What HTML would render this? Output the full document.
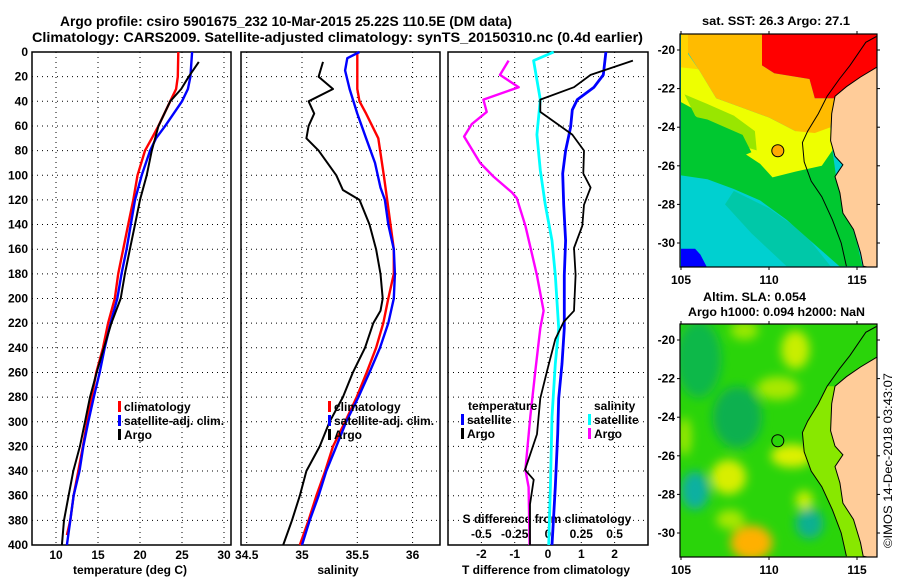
<!DOCTYPE html>
<html><head><meta charset="utf-8"><style>
html,body{margin:0;padding:0;background:#fff;}
svg{display:block;font-family:"Liberation Sans",Arial,sans-serif;}
.b{font-weight:bold;font-size:12px;}
</style></head><body>
<svg id="fig" width="900" height="580" viewBox="0 0 900 580" xmlns="http://www.w3.org/2000/svg">
<text x="60" y="26" font-size="14" font-weight="bold" textLength="452" lengthAdjust="spacingAndGlyphs">Argo profile: csiro 5901675_232 10-Mar-2015 25.22S 110.5E (DM data)</text>
<text x="32" y="42" font-size="14" font-weight="bold" textLength="611" lengthAdjust="spacingAndGlyphs">Climatology: CARS2009. Satellite-adjusted climatology: synTS_20150310.nc (0.4d earlier)</text>
<g id="plots"></g>
<g id="maps"></g>
</svg>
<script>
// ---------- data ----------
const depthTicks = [0,20,40,60,80,100,120,140,160,180,200,220,240,260,280,300,320,340,360,380,400];
const tTicks = [10,15,20,25,30];
const sTicks = [34.5,35,35.5,36];
const sTickLabels = ["34.5","35","35.5","36"];
const dTTicks = [-2,-1,0,1,2];
const dSTicks = [-0.5,-0.25,0,0.25,0.5];
const dSTickLabels = ["-0.5","-0.25","0","0.25","0.5"];

const tClimDepth = [0,20,30,40,60,70,80,100,120,140,160,180,200,220,240,260,280,300,320,340,360,380,392];
const tClim = [24.56,24.5,24.3,23.6,22.2,21.4,20.6,19.7,19.2,18.6,18.0,17.4,17.0,16.2,15.6,14.8,14.25,13.7,13.2,12.65,12.1,11.7,11.3];
const tSatDepth = [0,20,30,40,60,70,80,100,120,140,160,180,200,220,240,260,280,300,320,340,360,380,400];
const tSat = [26.2,26.0,25.7,25.0,23.0,21.9,21.2,20.2,19.4,18.9,18.4,17.8,17.3,16.5,15.8,15.2,14.5,13.85,13.25,12.8,12.1,11.7,11.3];
const tArgoDepth = [8,20,30,40,60,80,100,120,140,160,180,200,220,240,260,280,300,320,340,360,380,400];
const tArgo = [27.0,25.8,24.9,23.6,22.2,21.4,20.8,20.0,19.4,18.8,18.2,17.7,16.6,15.7,14.85,14.05,13.45,12.85,12.06,11.5,10.95,10.7];

const sClimDepth = [0,30,40,50,70,100,120,140,160,180,200,220,240,260,280,300,320,340,360,380,400];
const sClim = [35.50,35.50,35.52,35.58,35.69,35.74,35.77,35.80,35.83,35.83,35.78,35.735,35.67,35.585,35.495,35.39,35.28,35.21,35.13,35.06,34.98];
const sSatDepth = [0,5,15,30,50,70,90,110,120,140,160,180,200,220,240,260,280,300,320,340,360,380,400];
const sSat = [35.52,35.41,35.39,35.43,35.50,35.58,35.66,35.71,35.75,35.78,35.83,35.84,35.83,35.78,35.705,35.61,35.51,35.40,35.31,35.22,35.15,35.07,35.0];
const sArgoDepth = [8,20,30,40,50,60,70,80,100,112,120,140,160,180,200,210,220,240,260,280,300,320,340,360,380,400];
const sArgo = [35.19,35.15,35.28,35.06,35.11,35.06,35.04,35.15,35.31,35.37,35.52,35.61,35.67,35.71,35.73,35.71,35.645,35.57,35.46,35.37,35.25,35.16,35.04,34.98,34.91,34.83];

const dTSatDepth = [0,18.6,28.6,38.6,47,61,80,98.6,124,153,181,224,253,281,310,353,400];
const dTSat = [1.74,1.66,1.38,0.88,0.73,0.68,0.53,0.44,0.47,0.53,0.49,0.49,0.42,0.32,0.29,0.22,0.12];
const dTArgoDepth = [7,18.6,28.6,38.6,48.6,67,80,98.6,110,124,141,159,181,210,219,233,259,281,310,339,347,367,400];
const dTArgo = [2.55,1.28,0.78,-0.23,-0.23,0.73,1.08,1.06,1.28,1.08,1.03,0.78,0.83,0.78,0.47,0.22,-0.03,-0.23,-0.33,-0.69,-0.43,-0.54,-0.54];
const dSSatDepth = [0,7,38.6,67,96,124,153,181,224,253,296,353,400];
const dSSat = [0.043,-0.108,-0.058,-0.083,-0.058,-0.02,0.03,0.055,0.08,0.055,0.03,0.018,0.005];
const dSArgoDepth = [7,18.6,28.6,38.6,48.6,58.6,68.6,90,101,114,118.6,141,181,210,224,259,296,339,353,400];
const dSArgo = [-0.296,-0.36,-0.22,-0.485,-0.46,-0.573,-0.63,-0.51,-0.41,-0.27,-0.234,-0.17,-0.083,-0.033,-0.058,-0.095,-0.133,-0.17,-0.146,-0.138];

const mapLonTicks = [105,110,115];
const mapLatTicks = [-20,-22,-24,-26,-28,-30];
const argoLon = 110.5, argoLat = -25.22;

// ---------- helpers ----------
const NS = "http://www.w3.org/2000/svg";
function mk(tag, attrs, parent){const e=document.createElementNS(NS,tag);for(const k in attrs)e.setAttribute(k,attrs[k]);parent.appendChild(e);return e;}
const Y = d => 52 + d*1.2325;
const XT = t => 56 + (t-10)*8.4;
const XS = s => 302 + (s-35)*110.6;
const XDT = t => 548 + t*33.3;
const XDS = s => 548 + s*133.2;
const plots = document.getElementById('plots');

function panel(name, x0, x1, xTicks, xFn){
  const g = mk('g',{},plots);
  
  
  depthTicks.forEach(d=>{ if(d>0&&d<400){const l=mk('line',{x1:x0,x2:x1,y1:Y(d),y2:Y(d),stroke:'#000','stroke-width':1,'stroke-dasharray':'1,4'},g);
    
    }});
  xTicks.forEach(v=>{const x=xFn(v);const l=mk('line',{x1:x,x2:x,y1:Y(0),y2:Y(400),stroke:'#000','stroke-width':1,'stroke-dasharray':'1,4'},g);
    
    });
  const r = mk('rect',{x:x0,y:Y(0),width:x1-x0,height:Y(400)-Y(0),fill:'none',stroke:'#000','stroke-width':1.5},g);
  
  
  return g;
}
function line(g, depths, vals, xFn, color, w, name){
  const pts = depths.map((d,i)=>xFn(vals[i]).toFixed(1)+','+Y(d).toFixed(1)).join(' ');
  const p = mk('polyline',{points:pts,fill:'none',stroke:color,'stroke-width':w,'stroke-linejoin':'round'},g);
  
  
}
function txt(g, x, y, s, anchor, name, extra){
  const t = mk('text',Object.assign({x:x,y:y,'text-anchor':anchor||'start',class:'b'},extra||{}),g);
  t.textContent = s;
  
  
  return t;
}
function legend(g, x, y, items){
  items.forEach((it,i)=>{
    const yy = y + i*14;
    const m = mk('rect',{x:x,y:yy-10,width:3,height:11,fill:it[1]},g);
    
    
    txt(g, x+6, yy, it[0], 'start', 'legend-entry');
  });
}

// ---------- panel 1 ----------
const g1 = panel('temperature-panel', 32, 231, tTicks, XT);
depthTicks.forEach(d=>txt(g1, 28, Y(d)+4, String(d), 'end', 'y-tick-label'));
tTicks.forEach(v=>txt(g1, XT(v), 559, String(v), 'middle', 'x-tick-label'));
txt(g1, 130, 574, 'temperature (deg C)', 'middle', 'x-axis-title');
line(g1, tClimDepth, tClim, XT, '#ff0000', 2.4, 'series-temp-climatology');
line(g1, tSatDepth, tSat, XT, '#0000ff', 2.4, 'series-temp-satellite');
line(g1, tArgoDepth, tArgo, XT, '#000', 2, 'series-temp-argo');
legend(g1, 118, 411, [['climatology','#ff0000'],['satellite-adj. clim.','#0000ff'],['Argo','#000']]);

// ---------- panel 2 ----------
const g2 = panel('salinity-panel', 241, 440, sTicks, XS);
sTicks.forEach((v,i)=>txt(g2, XS(v), 559, sTickLabels[i], 'middle', 'x-tick-label'));
txt(g2, 338, 574, 'salinity', 'middle', 'x-axis-title');
line(g2, sClimDepth, sClim, XS, '#ff0000', 2.4, 'series-sal-climatology');
line(g2, sSatDepth, sSat, XS, '#0000ff', 2.4, 'series-sal-satellite');
line(g2, sArgoDepth, sArgo, XS, '#000', 2, 'series-sal-argo');
legend(g2, 328, 411, [['climatology','#ff0000'],['satellite-adj. clim.','#0000ff'],['Argo','#000']]);

// ---------- panel 3 ----------
const g3 = panel('difference-panel', 448, 648, dTTicks, XDT);
dTTicks.forEach(v=>txt(g3, XDT(v), 558, String(v), 'middle', 'x-tick-label'));
dSTicks.forEach((v,i)=>txt(g3, XDS(v), 538, dSTickLabels[i], 'middle', 's-tick-label'));
txt(g3, 547, 523, 'S difference from climatology', 'middle', 's-axis-title');
txt(g3, 546, 574, 'T difference from climatology', 'middle', 'x-axis-title');
line(g3, dSArgoDepth, dSArgo, XDS, '#ff00ff', 2.4, 'series-s-diff-argo');
line(g3, dSSatDepth, dSSat, XDS, '#00ffff', 2.8, 'series-s-diff-satellite');
line(g3, dTSatDepth, dTSat, XDT, '#0000ff', 2.8, 'series-t-diff-satellite');
line(g3, dTArgoDepth, dTArgo, XDT, '#000', 1.8, 'series-t-diff-argo');
txt(g3, 468, 410, 'temperature', 'start', 'legend-title-temperature');
legend(g3, 461, 424, [['satellite','#0000ff'],['Argo','#000']]);
txt(g3, 594, 410, 'salinity', 'start', 'legend-title-salinity');
legend(g3, 588, 424, [['satellite','#00ffff'],['Argo','#ff00ff']]);

// ---------- maps ----------
const maps = document.getElementById('maps');
const MX = lon => 681 + (lon-105)*17.6;
const coast = [[116.1,-20.9],[115.2,-21.4],[114.4,-21.9],[113.75,-22.4],[113.56,-23.3],[113.5,-24.7],[113.75,-25.5],[114.2,-25.95],[113.75,-26.56],[114.03,-27.4],[114.2,-28.45],[114.8,-29.3],[115.2,-30.5],[115.35,-31.2]];
const contour = [[116.1,-19.3],[115.5,-19.6],[114.6,-20.8],[114.0,-21.5],[113.3,-22.4],[112.8,-23.3],[112.2,-24.2],[111.9,-24.8],[112.0,-25.8],[112.4,-26.8],[113.0,-27.6],[113.6,-28.8],[114.1,-30.0],[114.4,-31.2]];
function drawMap(name, y0, titleLines, layers, dotFill){
  const MY = lat => (y0+16) + (-20-lat)*19.3;
  const P = arr => arr.map(p=>MX(p[0]).toFixed(1)+','+MY(p[1]).toFixed(1)).join(' ');
  const g = mk('g',{},maps);
  
  
  const cid = name+'-clip';
  const cp = mk('clipPath',{id:cid},g); mk('rect',{x:680,y:y0,width:197,height:233},cp);
  const inner = mk('g',{'clip-path':'url(#'+cid+')'},g);
  layers(inner, P, MY);
  const land = mk('polygon',{points:P(coast.concat([[117,-31.5],[117,-20.9]])),fill:'#ffcc99',stroke:'#000','stroke-width':1},inner);
  
  
  const ct = mk('polyline',{points:P(contour),fill:'none',stroke:'#000','stroke-width':1},inner);
  
  
  const dot = mk('circle',{cx:MX(argoLon),cy:MY(argoLat),r:6,fill:dotFill,stroke:'#000','stroke-width':1},inner);
  
  
  const fr = mk('rect',{x:680,y:y0,width:197,height:233,fill:'none',stroke:'#000','stroke-width':1.2},g);
  
  
  mapLatTicks.forEach(l=>{const y=MY(l);
    mk('line',{x1:677,x2:680,y1:y,y2:y,stroke:'#000'},g);
    mk('line',{x1:877,x2:880,y1:y,y2:y,stroke:'#000'},g);
    txt(g, 675, y+4, String(l), 'end', 'lat-tick-label');});
  mapLonTicks.forEach(l=>{const x=MX(l);
    mk('line',{x1:x,x2:x,y1:y0,y2:y0-3,stroke:'#000'},g);
    mk('line',{x1:x,x2:x,y1:y0+233,y2:y0+236,stroke:'#000'},g);
    txt(g, x, y0+250, String(l), 'middle', 'lon-tick-label');});
  titleLines.forEach(t=>txt(g, t[1], t[2], t[0], 'start', 'map-title', {textLength:t[3],lengthAdjust:'spacingAndGlyphs'}));
}
drawMap('sst-map', 34, [['sat. SST: 26.3 Argo: 27.1',702,25,148]], (g,P)=>{
  mk('rect',{x:680,y:34,width:197,height:233,fill:'#00d0d0'},g);
  mk('polygon',{points:P([[108,-27.3],[110,-28.2],[112,-29.5],[113.5,-31.2],[111,-31.2],[109,-29.5],[107.5,-28]]),fill:'#00c8a8'},g);
  mk('polygon',{points:P([[105,-22.5],[107,-22.8],[109.5,-23.5],[111,-24.5],[112.5,-25],[113.5,-24.5],[113.8,-26.5],[114.5,-28.5],[115,-30],[115.3,-31.2],[114,-31.2],[112.5,-30],[111,-28.8],[109.5,-27.8],[108,-27.2],[106.5,-26.7],[105,-26.5]]),fill:'#00c830'},g);
  mk('polygon',{points:P([[105,-20.8],[106,-21],[107,-22.5],[108.5,-23],[110,-23.5],[111.5,-24.2],[113.5,-24],[113.6,-25.2],[113,-26],[111.5,-26.3],[110.2,-26.6],[109.5,-25.9],[108.5,-25.3],[107,-24.2],[106,-23.2],[105,-22.7]]),fill:'#eeff00'},g);
  mk('polygon',{points:P([[105.2,-22.3],[106.5,-22.8],[108,-23.4],[109.2,-24.2],[109.3,-25.2],[108.2,-24.9],[107,-24.4],[105.8,-23.4]]),fill:'#99e600'},g);
  mk('polygon',{points:P([[105,-23.3],[106.5,-23.6],[108.5,-24.4],[109,-25.3],[108.2,-25.6],[106.5,-25.4],[105,-25.2]]),fill:'#00c830'},g);
  mk('polygon',{points:P([[109.3,-24.3],[111,-24.5],[112.5,-25],[112.2,-26.1],[110.5,-26.5],[109.6,-26]]),fill:'#eeff00'},g);
  mk('polygon',{points:P([[105.3,-19.1],[109.6,-19.1],[109.6,-20.8],[110.3,-21.2],[112.3,-21.5],[112.6,-22.5],[113.9,-22.5],[113.56,-23.3],[113.5,-24],[112.6,-24.3],[111.5,-24.2],[110,-23.5],[108.5,-23],[107,-22.5],[106,-21],[105.3,-20]]),fill:'#ffbb00'},g);
  mk('polygon',{points:P([[105,-19.1],[105.4,-19.1],[105.4,-20.2],[106,-21],[105,-20.9]]),fill:'#ffd400'},g);
  mk('polygon',{points:P([[109.6,-19.1],[116.2,-19.1],[116.1,-20.9],[114.4,-21.9],[113.9,-22.5],[112.6,-22.5],[112.3,-21.5],[110.3,-21.2],[109.6,-20.8]]),fill:'#ff0000'},g);
  mk('polygon',{points:P([[105,-30.3],[105.8,-30.3],[106.1,-30.6],[106.5,-31.3],[105,-31.3]]),fill:'#0000ff'},g);
}, '#ffaa00');
drawMap('sla-map', 324, [['Altim. SLA: 0.054',703,301,103],['Argo h1000: 0.094 h2000: NaN',688,316,177]], (g,P,MY)=>{
  mk('rect',{x:680,y:324,width:197,height:233,fill:'#2ad40a'},g);
  const f = mk('filter',{id:'blurSLA',x:'-50%',y:'-50%',width:'200%',height:'200%'},g);
  mk('feGaussianBlur',{stdDeviation:5},f);
  const gb = mk('g',{filter:'url(#blurSLA)'},g);
  const blobs = [[106,-21,1.3,2,'#10b848'],[108.2,-24,1.4,1.6,'#10b050'],[105.8,-27.8,0.8,1,'#10b0a0'],[112.3,-29.5,0.8,0.8,'#10b090'],[111.5,-20.5,0.8,1,'#c8ee00'],[110.5,-22.5,1.2,0.6,'#a8e800'],[107.7,-27.1,1.0,0.9,'#d8ee00'],[109,-30.5,1.2,0.9,'#ffb000'],[111.3,-26,1.2,0.6,'#ddf000'],[107.8,-29.3,0.8,0.5,'#a8e800'],[112,-28.3,0.5,0.5,'#c8ee00'],[108.6,-19.5,0.8,0.5,'#99e800'],[105.2,-25,0.4,1,'#99e800']];
  blobs.forEach(b=>{mk('ellipse',{cx:MX(b[0]),cy:MY(b[1]),rx:b[2]*17.6,ry:b[3]*19.3,fill:b[4]},gb);});
  const strip = mk('polygon',{points:P([[113.3,-22.4],[112.8,-23.3],[112.2,-24.2],[111.9,-24.8],[112.0,-25.8],[112.4,-26.8],[113.0,-27.6],[113.6,-28.8],[114.1,-30.0],[114.4,-31.2],[115.4,-31.2],[114.5,-28],[113.8,-24],[114,-22.4]]),fill:'#88e800'},g);
  
  
}, '#2ad40a');
const im = txt(maps, 0, 0, '©IMOS 14-Dec-2018 03:43:07', 'start', 'timestamp-credit', {transform:'translate(892,548) rotate(-90)',textLength:175,lengthAdjust:'spacingAndGlyphs'});
im.setAttribute('class','');
im.setAttribute('font-size','12');
</script>
</body></html>
